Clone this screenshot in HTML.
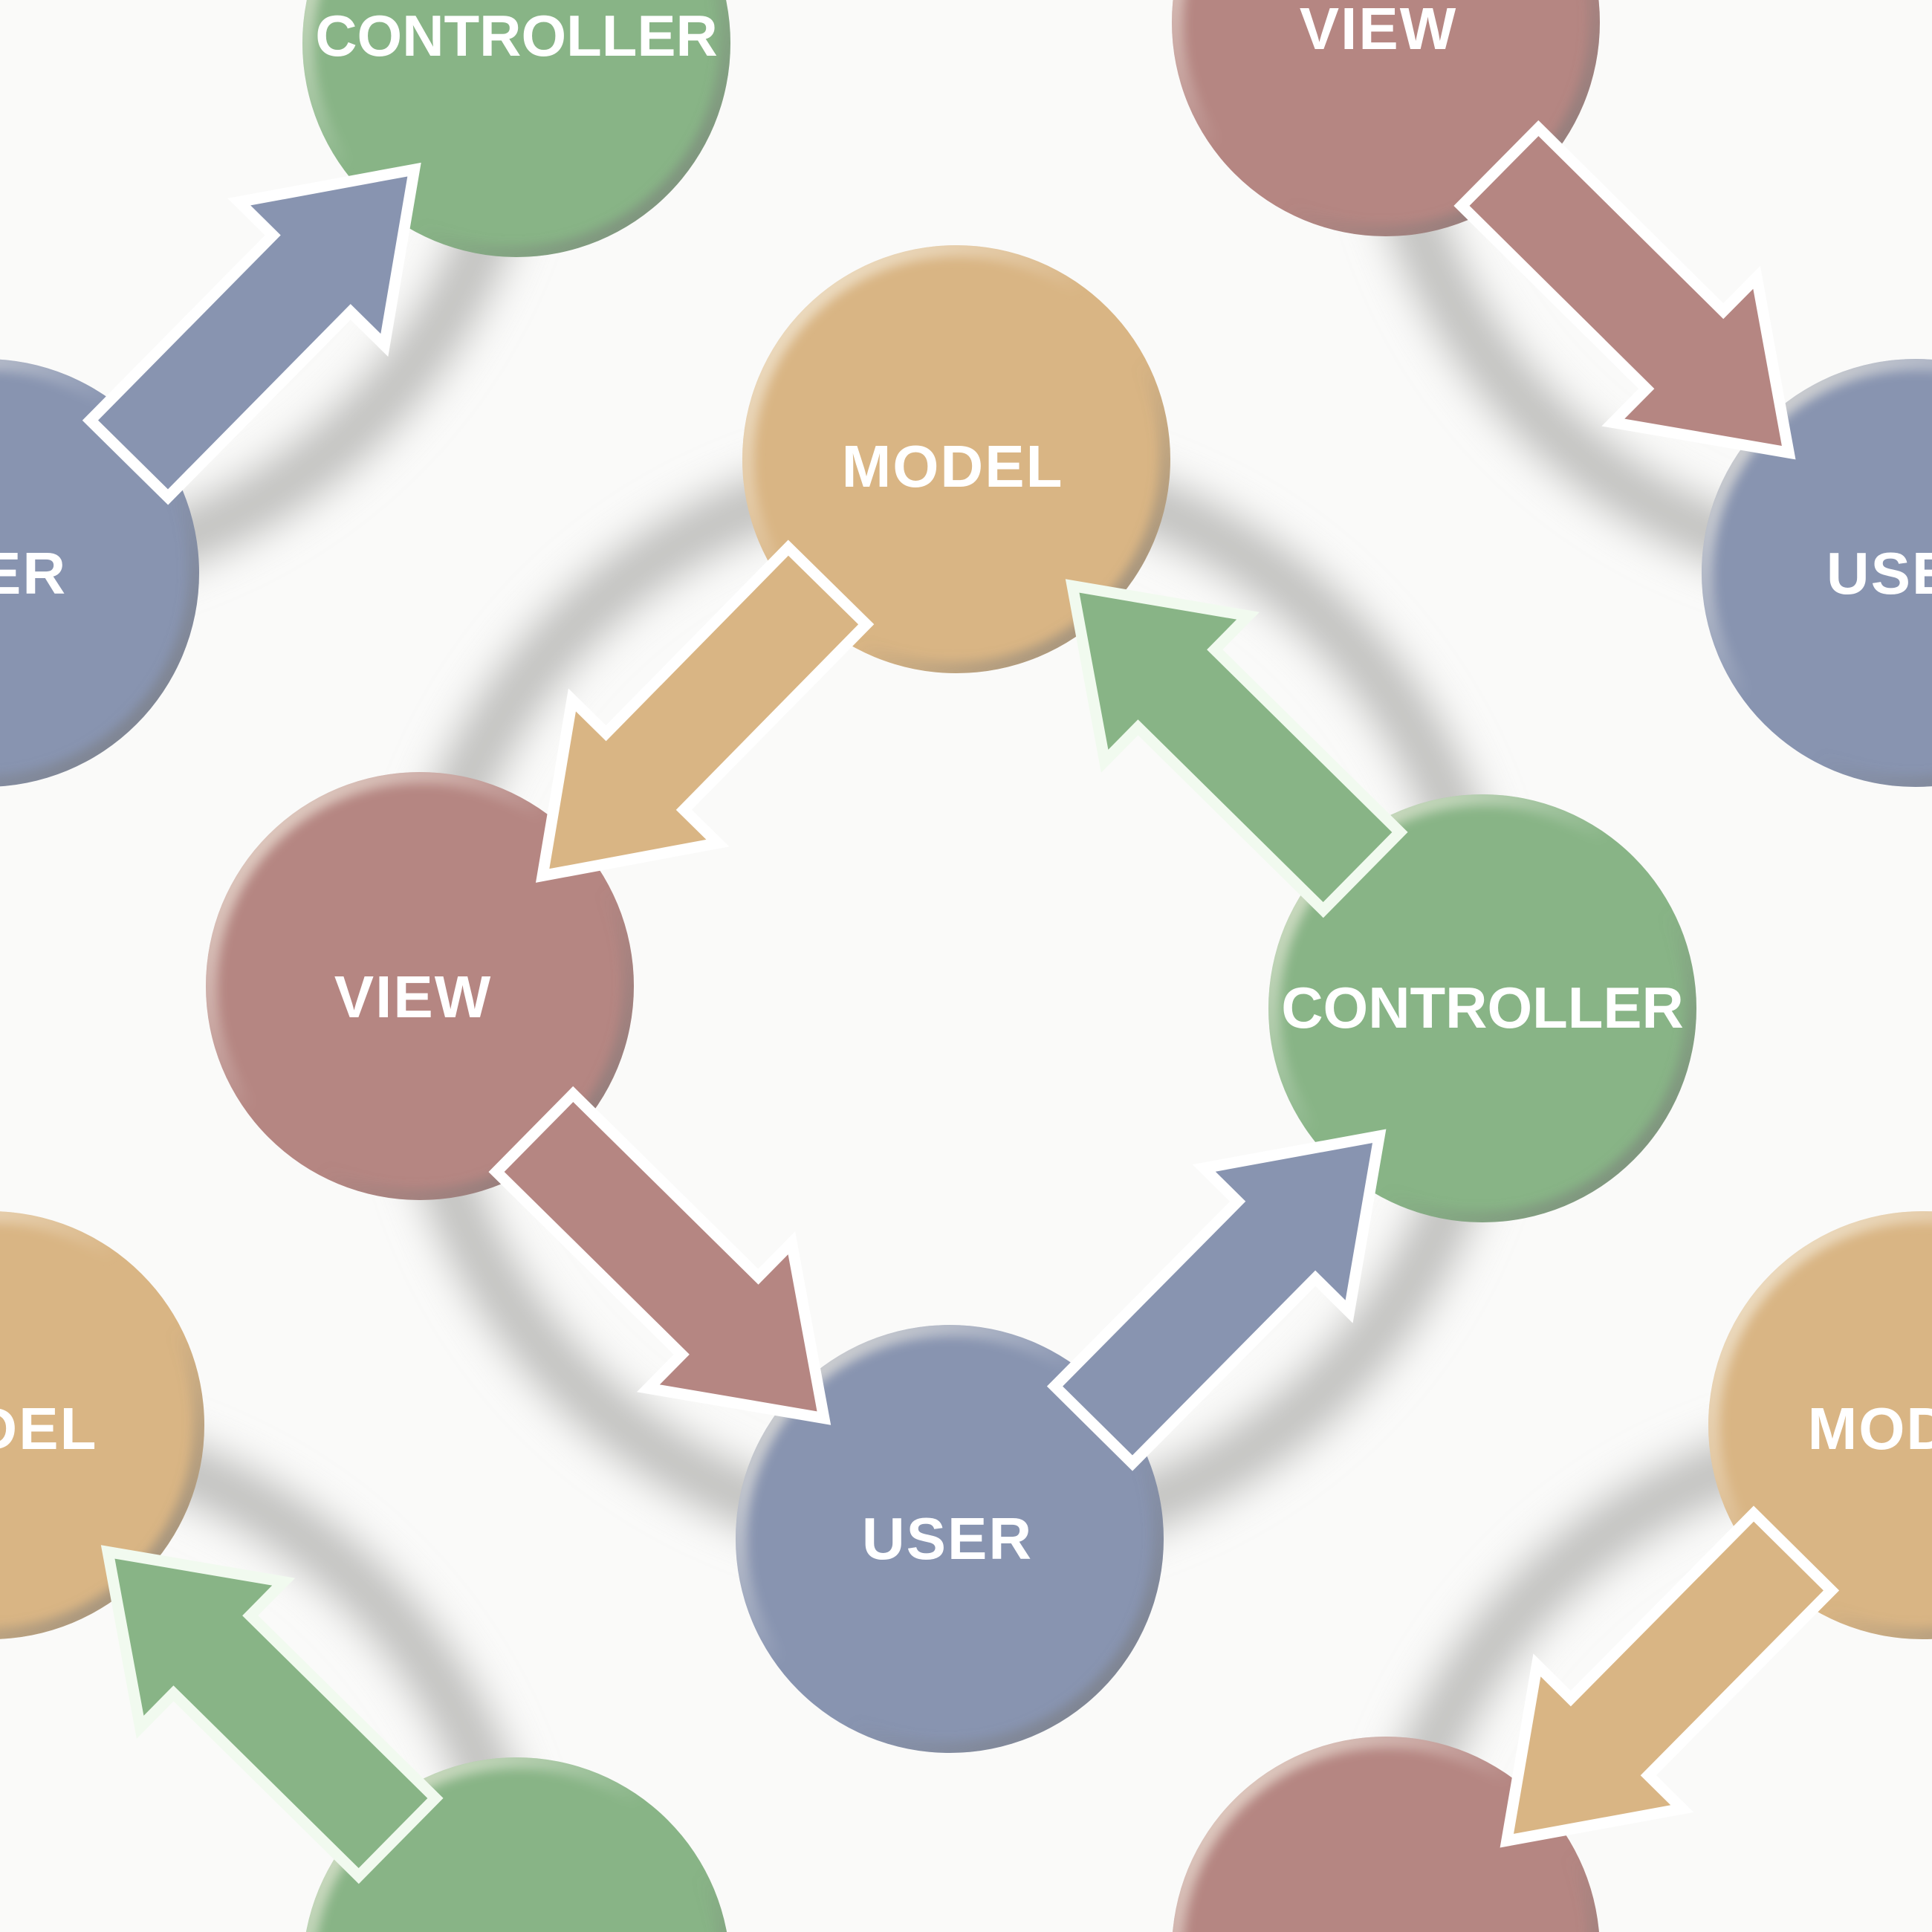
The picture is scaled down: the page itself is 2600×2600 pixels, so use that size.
<!DOCTYPE html>
<html><head><meta charset="utf-8"><style>
html,body{margin:0;padding:0;background:#fafaf9;width:2600px;height:2600px;overflow:hidden;}
svg{display:block;}
text{font-family:"Liberation Sans",sans-serif;font-weight:bold;font-size:80px;fill:#fff;text-anchor:middle;letter-spacing:2px;}
text.c{letter-spacing:0;font-size:78px;}
</style></head><body>
<svg width="2600" height="2600" viewBox="0 0 2600 2600" xmlns="http://www.w3.org/2000/svg">
<defs>
<filter id="blur" x="-50%" y="-50%" width="200%" height="200%"><feGaussianBlur stdDeviation="28"/></filter>
<filter id="rimblur" x="-20%" y="-20%" width="140%" height="140%"><feGaussianBlur stdDeviation="7"/></filter>
<linearGradient id="rim" x1="0" y1="0" x2="1" y2="1">
<stop offset="0" stop-color="#f4ecd8" stop-opacity="0.9"/>
<stop offset="0.45" stop-color="#ffffff" stop-opacity="0"/>
<stop offset="0.6" stop-color="#777" stop-opacity="0"/>
<stop offset="1" stop-color="#777" stop-opacity="0.8"/>
</linearGradient>
<clipPath id="cc"><circle r="288"/></clipPath>
<g id="rimg"><g clip-path="url(#cc)"><circle r="285" fill="none" stroke="url(#rim)" stroke-width="26" filter="url(#rimblur)"/></g></g>
<polygon id="arr" points="0,-66 350,-66 350,-123 526,0 350,123 350,66 0,66"/>
</defs>
<rect width="2600" height="2600" fill="#fafaf9"/>
<g fill="none" stroke="#bcbcba" stroke-width="70" filter="url(#blur)">
<circle cx="1282" cy="1351" r="721"/>
<circle cx="-18" cy="53" r="721"/>
<circle cx="2582" cy="53" r="721"/>
<circle cx="-18" cy="2649" r="721"/>
<circle cx="2582" cy="2649" r="721"/>
</g>
<g>
<g transform="translate(1287,618)"><circle r="288" fill="#d9b584"/><use href="#rimg"/></g>
<g transform="translate(565,1327)"><circle r="288" fill="#b58682"/><use href="#rimg"/></g>
<g transform="translate(1995,1357)"><circle r="288" fill="#88b486"/><use href="#rimg"/></g>
<g transform="translate(1278,2071)"><circle r="288" fill="#8894b0"/><use href="#rimg"/></g>
<g transform="translate(695,58)"><circle r="288" fill="#88b486"/><use href="#rimg"/></g>
<g transform="translate(1865,30)"><circle r="288" fill="#b58682"/><use href="#rimg"/></g>
<g transform="translate(-20,771)"><circle r="288" fill="#8894b0"/><use href="#rimg"/></g>
<g transform="translate(2578,771)"><circle r="288" fill="#8894b0"/><use href="#rimg"/></g>
<g transform="translate(-13,1918)"><circle r="288" fill="#d9b584"/><use href="#rimg"/></g>
<g transform="translate(2587,1918)"><circle r="288" fill="#d9b584"/><use href="#rimg"/></g>
<g transform="translate(695,2653)"><circle r="288" fill="#88b486"/><use href="#rimg"/></g>
<g transform="translate(1865,2625)"><circle r="288" fill="#b58682"/><use href="#rimg"/></g>
</g>
<g stroke-width="30" stroke-linejoin="miter" stroke-miterlimit="10" paint-order="stroke">
<use href="#arr" transform="translate(1108,794) rotate(134.5)" fill="#d9b584" stroke="#ffffff"/>
<use href="#arr" transform="translate(725,1530) rotate(44.6)" fill="#b58682" stroke="#ffffff"/>
<use href="#arr" transform="translate(1477,1912) rotate(-45.3)" fill="#8894b0" stroke="#ffffff"/>
<use href="#arr" transform="translate(1827,1167) rotate(-135.4)" fill="#88b486" stroke="#f1faef"/>
<use href="#arr" transform="translate(179,612) rotate(-45.4)" fill="#8894b0" stroke="#ffffff"/>
<use href="#arr" transform="translate(2024,230) rotate(44.7)" fill="#b58682" stroke="#ffffff"/>
<use href="#arr" transform="translate(529,2467) rotate(-135.4)" fill="#88b486" stroke="#f1faef"/>
<use href="#arr" transform="translate(2407,2094) rotate(134.7)" fill="#d9b584" stroke="#ffffff"/>
</g>
<text x="1282" y="655">MODEL</text>
<text x="556" y="1369">VIEW</text>
<text class="c" x="1995" y="1383">CONTROLLER</text>
<text x="1275" y="2098">USER</text>
<text class="c" x="695" y="75">CONTROLLER</text>
<text x="1855" y="66">VIEW</text>
<text x="-25" y="799">USER</text>
<text x="2573" y="799">USER</text>
<text x="-18" y="1950">MODEL</text>
<text x="2582" y="1950">MODEL</text>
</svg>
</body></html>
